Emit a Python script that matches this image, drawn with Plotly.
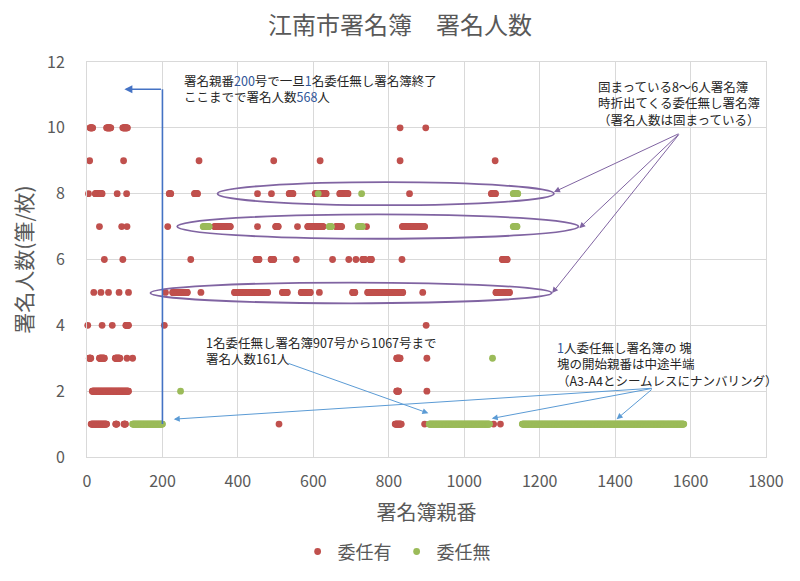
import plotly.graph_objects as go

FONT = "Noto Sans CJK JP"
RED = "#C0504D"
GREEN = "#9BBB59"
GRAY = "#595959"

# 委任有: isolated books (親番, 署名人数)
red_x = [830, 898,
         7, 97, 297, 495, 618, 830, 1082,
         4, 80, 105, 452, 489, 855,
         33, 92, 106, 214, 452, 558, 741,
         46, 95, 275, 555, 651, 694, 713, 835,
         18, 37, 57, 85, 110, 208, 302, 616, 890,
         2, 40, 67, 205, 899,
         106, 121, 901,
         901,
         509, 895, 1078, 1096]
red_y = [10, 10,
         9, 9, 9, 9, 9, 9, 9,
         8, 8, 8, 8, 8, 8,
         7, 7, 7, 7, 7, 7, 7,
         6, 6, 6, 6, 6, 6, 6, 6,
         5, 5, 5, 5, 5, 5, 5, 5, 5,
         4, 4, 4, 4, 4,
         3, 3, 3,
         2,
         1, 1, 1, 1]

# 委任有: runs of consecutive books with the same count
red_run_start = [8, 52, 95,
                 22, 218, 285, 536, 605, 670, 1072,
                 338, 500, 585, 660, 836,
                 448, 488, 731, 750, 1101,
                 227, 391, 518, 568, 704, 744, 1084,
                 103,
                 6, 33, 75, 821,
                 14, 821,
                 11, 76, 98, 817]
red_run_end = [15, 63, 107,
               40, 222, 293, 546, 634, 692, 1083,
               380, 507, 626, 675, 895,
               456, 495, 736, 754, 1114,
               266, 479, 531, 592, 710, 837, 1120,
               110,
               10, 46, 87, 830,
               110, 826,
               52, 79, 102, 833]
red_run_y = [10, 10, 10,
             8, 8, 8, 8, 8, 8, 8,
             7, 7, 7, 7, 7,
             6, 6, 6, 6, 6,
             5, 5, 5, 5, 5, 5, 5,
             4,
             3, 3, 3, 3,
             2, 2,
             1, 1, 1, 1]

# 委任無
green_x = [613, 728, 1075, 248]
green_y = [8, 8, 3, 2]
green_run_start = [121, 907, 1154, 1130, 1130, 308, 642, 719]
green_run_end = [200, 1067, 1582, 1142, 1140, 324, 648, 730]
green_run_y = [1, 1, 1, 8, 7, 7, 7, 7]

x_ticks = [0, 200, 400, 600, 800, 1000, 1200, 1400, 1600, 1800]
y_ticks = [0, 2, 4, 6, 8, 10, 12]


def expand(px, py, starts, ends, ys):
    xs, yv = list(px), list(py)
    for s, e, y in zip(starts, ends, ys):
        for b in range(s, e + 1):
            xs.append(b)
            yv.append(y)
    return xs, yv


rx, ry = expand(red_x, red_y, red_run_start, red_run_end, red_run_y)
gx, gy = expand(green_x, green_y, green_run_start, green_run_end, green_run_y)

fig = go.Figure()
fig.add_trace(go.Scatter(x=rx, y=ry, mode="markers", name="委任有",
                         marker=dict(color=RED, size=6.8), cliponaxis=False))
fig.add_trace(go.Scatter(x=gx, y=gy, mode="markers", name="委任無",
                         marker=dict(color=GREEN, size=6.8), cliponaxis=False))

PURPLE = "#8064A2"
BLUE = "#4472C4"
LBLUE = "#5B9BD5"

shapes = [
    dict(type="circle", xref="x", yref="y", x0=346, x1=1238, y0=7.65, y1=8.35,
         line=dict(color=PURPLE, width=1.8)),
    dict(type="circle", xref="x", yref="y", x0=239, x1=1303, y0=6.63, y1=7.37,
         line=dict(color=PURPLE, width=1.8)),
    dict(type="circle", xref="x", yref="y", x0=168, x1=1232, y0=4.67, y1=5.3,
         line=dict(color=PURPLE, width=1.8)),
    dict(type="line", xref="x", yref="y", x0=200, x1=200, y0=1, y1=11.17,
         line=dict(color=BLUE, width=1.6)),
]

TXT = "#262626"
anns = [
    dict(x=1350, y=11.62, text="固まっている8～6人署名簿<br>時折出てくる委任無し署名簿<br>（署名人数は固まっている）"),
    dict(x=252, y=11.8, text="署名親番<span style='color:#2F5597'>200</span>号で一旦<span style='color:#2F5597'>1</span>名委任無し署名簿終了<br>ここまでで署名人数<span style='color:#2F5597'>568</span>人"),
    dict(x=309, y=3.83, text="1名委任無し署名簿907号から1067号まで<br>署名人数161人"),
    dict(x=1241, y=3.68, text="<span style='color:#2F5597'>1</span>人委任無し署名簿の 塊<br>塊の開始親番は中途半端<br>（A3-A4とシームレスにナンバリング）"),
]
annotations = []
for a in anns:
    annotations.append(dict(xref="x", yref="y", x=a["x"], y=a["y"], text=a["text"],
                            showarrow=False, xanchor="left", yanchor="top", align="left",
                            font=dict(family=FONT, size=12.5, color=TXT)))

arrows = [
    (1238, 8.05, 1572, 9.84, PURPLE, 1),
    (1305, 6.95, 1572, 9.84, PURPLE, 1),
    (1233, 4.98, 1572, 9.84, PURPLE, 1),
    (99, 11.17, 200, 11.17, BLUE, 1.6),
    (905, 1.33, 530, 2.86, LBLUE, 1),
    (230, 1.15, 1501, 2.09, LBLUE, 1),
    (1073, 1.17, 1501, 2.09, LBLUE, 1),
    (1404, 1.15, 1501, 2.09, LBLUE, 1),
]
for x, y, ax, ay, c, w in arrows:
    annotations.append(dict(xref="x", yref="y", axref="x", ayref="y", x=x, y=y,
                            ax=ax, ay=ay, text="", showarrow=True, arrowhead=2,
                            arrowsize=1.2 if w < 1.5 else 1, arrowwidth=w, arrowcolor=c,
                            standoff=0, startstandoff=0))

# page body has an 8px margin, so the figure is laid out 8px up/left of the page grid
fig.update_layout(
    width=784, height=565,
    margin=dict(l=78.5, r=26, t=53.7, b=116, autoexpand=False),
    paper_bgcolor="white", plot_bgcolor="white",
    font=dict(family=FONT, color=GRAY),
    title=dict(text="江南市署名簿　署名人数", x=0.5, xanchor="center",
               y=1 - 18 / 565, yanchor="middle", yref="container",
               font=dict(family=FONT, size=24, color=GRAY)),
    xaxis=dict(range=[0, 1800], tickvals=x_ticks, showgrid=True, gridcolor="#D9D9D9",
               zeroline=False, showline=True, mirror=True, linecolor="#D9D9D9",
               tickfont=dict(size=16, color=GRAY), ticks="", ticklabelstandoff=10,
               automargin=False,
               title=dict(text="署名簿親番", font=dict(size=20, color=GRAY), standoff=14)),
    yaxis=dict(range=[0, 12], tickvals=y_ticks, showgrid=True, gridcolor="#D9D9D9",
               zeroline=False, showline=True, mirror=True, linecolor="#D9D9D9",
               tickfont=dict(size=16, color=GRAY), ticks="", ticklabelstandoff=18,
               automargin=False,
               title=dict(text="署名人数(筆/枚)", font=dict(size=21, color=GRAY), standoff=12)),
    legend=dict(orientation="h", x=0.456, xanchor="center", y=-0.24, yanchor="middle",
                font=dict(size=18, color=GRAY)),
    shapes=shapes,
    annotations=annotations,
    showlegend=True,
)

fig.write_html("out.html")
